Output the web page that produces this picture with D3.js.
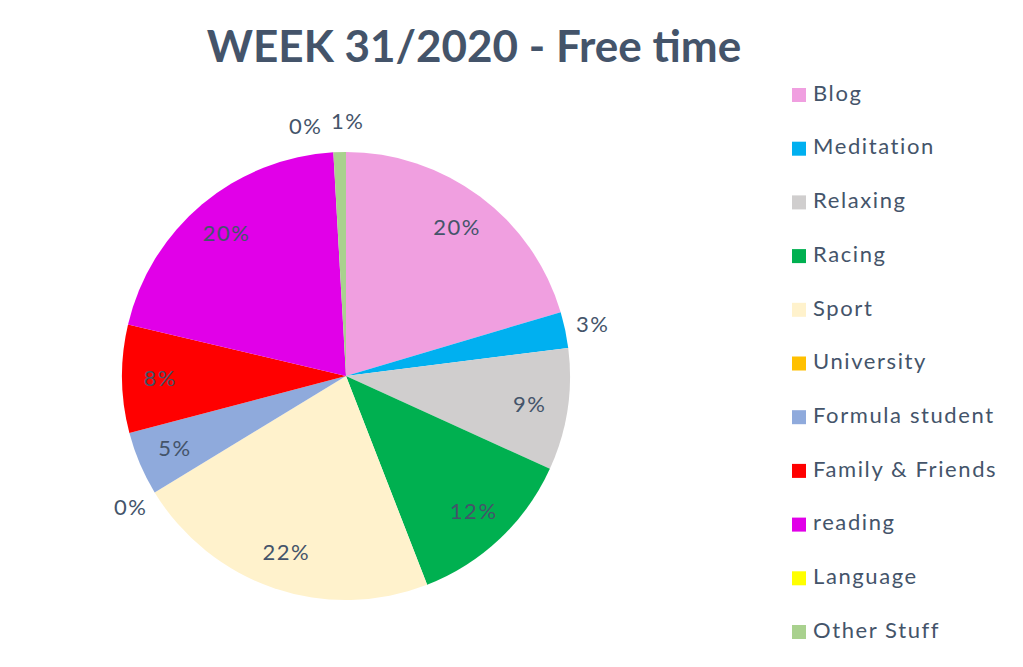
<!DOCTYPE html>
<html><head><meta charset="utf-8">
<script src="https://cdn.jsdelivr.net/npm/d3@7"></script>
<style>body{margin:0;background:#fff}svg{display:block}</style>
</head><body>
<svg id="c" width="1023" height="667"></svg>
<script>
const categories = ["Blog","Meditation","Relaxing","Racing","Sport","University","Formula student","Family & Friends","reading","Language","Other Stuff"];
const values = [20.4, 2.6, 8.8, 12.3, 22.2, 0, 4.6, 7.8, 20.4, 0, 0.9];
const colors = ["#F09FE0","#00B0F0","#D0CECE","#00B050","#FFF2CC","#FFC000","#8FAADC","#FF0000","#E100E8","#FFFF00","#A9D18E"];
const title = "WEEK 31/2020 - Free time";

const svg = d3.select("#c");
const textColor = "#44546A";
const cx = 346, cy = 376, R = 224;

svg.append("text").attr("x", 474).attr("y", 62).attr("text-anchor","middle")
  .attr("font-family","Lato").attr("font-weight","bold").attr("font-size",44)
  .attr("fill", textColor).text(title);

const total = d3.sum(values);
const pie = d3.pie().sort(null).value(d=>d)(values);
const arc = d3.arc().innerRadius(0).outerRadius(R);
const g = svg.append("g").attr("transform",`translate(${cx},${cy})`);
g.selectAll("path").data(pie).join("path").attr("d",arc).attr("fill",(d,i)=>colors[i]);

const fmt = v => Math.round(v/total*100) + "%";
const labels = pie.map((d,i)=>{
  const a = (d.startAngle+d.endAngle)/2;
  const inside = (d.endAngle-d.startAngle) > 0.2;
  const r = inside ? R*0.83 : R+28;
  return {x: r*Math.sin(a), y: -r*Math.cos(a), text: fmt(values[i]), inside};
});
// simple collision pass for outside labels
for (let i=0;i<labels.length;i++) for (let j=i+1;j<labels.length;j++){
  const A=labels[i],B=labels[j];
  if(!A.inside && !B.inside && Math.abs(A.y-B.y)<20 && Math.abs(A.x-B.x)<40){
    const d = 42-Math.abs(A.x-B.x);
    A.x -= d*0.75; B.x += d*0.25; A.y += 2; B.y -= 3;
  }
}
g.selectAll("text.lbl").data(labels).join("text").attr("class","lbl")
  .attr("x",d=>d.x).attr("y",d=>d.y).attr("dy","0.35em").attr("text-anchor","middle")
  .attr("font-family","Lato").attr("font-size",22).attr("letter-spacing",1.5)
  .attr("fill",textColor).text(d=>d.text);

const leg = svg.append("g");
const ly = d3.scalePoint().domain(categories).range([95,632]);
const items = leg.selectAll("g").data(categories).join("g")
  .attr("transform",d=>`translate(792,${ly(d)})`);
items.append("rect").attr("x",0).attr("y",-7).attr("width",14).attr("height",14).attr("fill",(d,i)=>colors[i]);
items.append("text").attr("x",21).attr("y",-2).attr("dy","0.35em")
  .attr("font-family","Lato").attr("font-size",22).attr("letter-spacing",1.6)
  .attr("fill",textColor).text(d=>d);
</script>
</body></html>
